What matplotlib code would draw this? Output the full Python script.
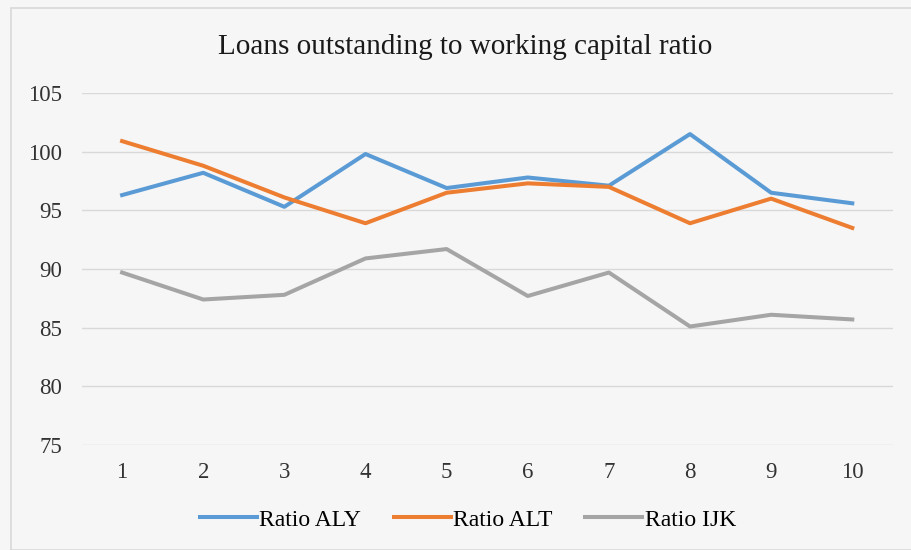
import matplotlib
matplotlib.use("Agg")
import matplotlib.pyplot as plt
from matplotlib.patches import Rectangle

periods = [1, 2, 3, 4, 5, 6, 7, 8, 9, 10]
ratio_aly = [96.3, 98.2, 95.3, 99.8, 96.9, 97.8, 97.1, 101.5, 96.5, 95.6]
ratio_alt = [100.9, 98.8, 96.1, 93.9, 96.5, 97.3, 97.0, 93.9, 96.0, 93.5]
ratio_ijk = [89.7, 87.4, 87.8, 90.9, 91.7, 87.7, 89.7, 85.1, 86.1, 85.7]
yticks = [75, 80, 85, 90, 95, 100, 105]

plt.rcParams['font.family'] = ['Liberation Serif', 'DejaVu Serif']

fig = plt.figure(figsize=(9.12, 5.5), dpi=100, facecolor='#f6f6f6')
fig.patches.append(Rectangle((11/912, 0.0), 1.2, 1 - 8/550, transform=fig.transFigure,
                             fill=False, edgecolor='#d9d9d9', linewidth=1.2))
ax = fig.add_axes([0.0894, 0.1909, 0.8896, 0.64])
ax.set_facecolor('#f6f6f6')

ax.plot(periods, ratio_aly, color='#5b9bd5', lw=2.9, label='Ratio ALY', solid_joinstyle='round')
ax.plot(periods, ratio_alt, color='#ed7d31', lw=2.9, label='Ratio ALT', solid_joinstyle='round')
ax.plot(periods, ratio_ijk, color='#a5a5a5', lw=2.9, label='Ratio IJK', solid_joinstyle='round')

ax.set_xlim(0.5, 10.5)
ax.set_ylim(75, 105)
ax.set_xticks(periods)
ax.set_yticks(yticks)
ax.grid(axis='y', color='#d9d9d9', lw=1)
ax.set_axisbelow(True)
for s in ax.spines.values():
    s.set_visible(False)
ax.tick_params(length=0, labelsize=16.5, colors='#333333')
ax.tick_params(axis='y', pad=14)
ax.tick_params(axis='x', pad=12)

fig.text(0.51, 0.9145, 'Loans outstanding to working capital ratio', ha='center', va='center',
         fontsize=21, color='#1a1a1a')

fig.legend(loc='center', bbox_to_anchor=(0.513, 0.055), ncol=3, frameon=False, fontsize=17,
           handlelength=2.4, handletextpad=0.1, columnspacing=1.4)

fig.savefig('out.png', dpi=100, facecolor=fig.get_facecolor())
